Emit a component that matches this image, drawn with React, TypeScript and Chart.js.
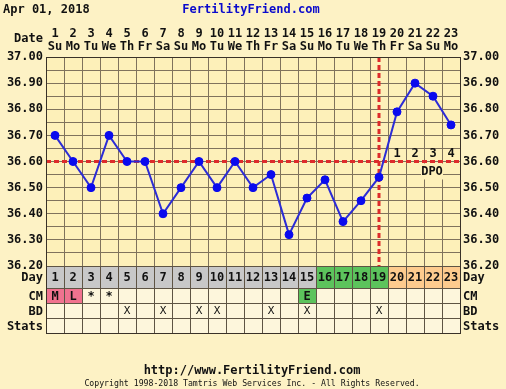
import React, { useEffect, useRef } from 'react';
import { Chart, registerables } from 'chart.js';

Chart.register(...registerables);

// ---------- data ----------
const chartDate = 'Apr 01, 2018';
const siteName = 'FertilityFriend.com';
const footerUrl = 'http://www.FertilityFriend.com';
const copyright = 'Copyright 1998-2018 Tamtris Web Services Inc. - All Rights Reserved.';

const days = ['1', '2', '3', '4', '5', '6', '7', '8', '9', '10', '11', '12', '13', '14', '15', '16', '17', '18', '19', '20', '21', '22', '23'];
const weekdays = ['Su', 'Mo', 'Tu', 'We', 'Th', 'Fr', 'Sa', 'Su', 'Mo', 'Tu', 'We', 'Th', 'Fr', 'Sa', 'Su', 'Mo', 'Tu', 'We', 'Th', 'Fr', 'Sa', 'Su', 'Mo'];
const temps = [36.70, 36.60, 36.50, 36.70, 36.60, 36.60, 36.40, 36.50, 36.60, 36.50, 36.60, 36.50, 36.55, 36.32, 36.46, 36.53, 36.37, 36.45, 36.54, 36.79, 36.90, 36.85, 36.74];
const coverline = 36.6;
const ovulationDay = '19';
const phases = ['pre', 'pre', 'pre', 'pre', 'pre', 'pre', 'pre', 'pre', 'pre', 'pre', 'pre', 'pre', 'pre', 'pre', 'pre', 'fertile', 'fertile', 'fertile', 'fertile', 'luteal', 'luteal', 'luteal', 'luteal'];
const cm = ['M', 'L', '*', '*', '', '', '', '', '', '', '', '', '', '', 'E', '', '', '', '', '', '', '', ''];
const bd = ['', '', '', '', 'X', '', 'X', '', 'X', 'X', '', '', 'X', '', 'X', '', '', '', 'X', '', '', '', ''];
const dpo = ['', '', '', '', '', '', '', '', '', '', '', '', '', '', '', '', '', '', '', '1', '2', '3', '4'];
const rowLabels = ['Day', 'CM', 'BD', 'Stats'];
const yMin = 36.2;
const yMax = 37.0;
const yTickValues = [36.20, 36.25, 36.30, 36.35, 36.40, 36.45, 36.50, 36.55, 36.60, 36.65, 36.70, 36.75, 36.80, 36.85, 36.90, 36.95, 37.00];

// ---------- styles ----------
const FONT = '"DejaVu Sans Mono", monospace';
const PAGE_BG = '#fdf2c5';
const PLOT_BG = '#fdf0b9';
const CELL_BG = '#fdf6dc';
const GRID = '#7f725c';
const LINE_DARK = '#5e5444';
const TEXT = '#111111';
const RED = '#dd2b2b';
const BLUE_LINE = '#2c2cd6';
const BLUE_PT = '#0a0aee';
const phaseColor: Record<string, string> = { pre: '#c8c8c8', fertile: '#5cc35c', luteal: '#fdcb8e' };
const cmColor: Record<string, string> = { M: '#f0728f', L: '#f0728f', E: '#5cc35c' };

const ROW_H = [22, 15, 15, 15];

const ffPlugin = {
  id: 'ffDecor',
  beforeDraw(chart: any) {
    const { ctx, chartArea: a, width, height } = chart;
    ctx.save();
    ctx.fillStyle = PAGE_BG;
    ctx.fillRect(0, 0, width, height);
    ctx.fillStyle = PLOT_BG;
    ctx.fillRect(a.left, a.top, a.right - a.left, a.bottom - a.top);
    ctx.restore();
  },
  beforeDatasetsDraw(chart: any) {
    const { ctx, chartArea: a } = chart;
    const xs = chart.scales.x;
    const ys = chart.scales.y;
    ctx.save();
    // DPO labels
    const yc = ys.getPixelForValue(coverline);
    const dpoIdx = dpo.map((d, i) => (d ? i : -1)).filter((i) => i >= 0);
    ctx.font = `bold 12px ${FONT}`;
    ctx.textAlign = 'center';
    ctx.textBaseline = 'middle';
    const dpoX = xs.getPixelForValue(dpoIdx[2]) - 1;
    ctx.fillStyle = PLOT_BG;
    ctx.fillRect(dpoX - 11, yc + 2, 22, 16);
    ctx.fillStyle = TEXT;
    ctx.fillText('DPO', dpoX, yc + 10);
    dpoIdx.forEach((i) => {
      ctx.fillText(dpo[i], xs.getPixelForValue(i), yc - 7.5);
    });
    // coverline
    ctx.strokeStyle = RED;
    ctx.lineWidth = 3;
    ctx.setLineDash([5, 3]);
    ctx.beginPath();
    ctx.moveTo(a.left, yc);
    ctx.lineTo(a.right, yc);
    ctx.stroke();
    // ovulation line
    const xo = Math.round(xs.getPixelForValue(days.indexOf(ovulationDay)));
    ctx.beginPath();
    ctx.moveTo(xo, a.top);
    ctx.lineTo(xo, a.bottom);
    ctx.stroke();
    ctx.restore();
  },
  afterDraw(chart: any) {
    const { ctx, chartArea: a, width } = chart;
    const xs = chart.scales.x;
    const colW = xs.getPixelForValue(1) - xs.getPixelForValue(0);
    ctx.save();
    // table
    let top = a.bottom;
    const rowTops: number[] = [];
    ROW_H.forEach((h, r) => {
      rowTops.push(top);
      days.forEach((d, i) => {
        const cx = xs.getPixelForValue(i);
        const x0 = cx - colW / 2;
        let bg = CELL_BG;
        let txt = '';
        let font = `bold 12px ${FONT}`;
        if (r === 0) {
          bg = phaseColor[phases[i]];
          txt = d;
        } else if (r === 1) {
          bg = cmColor[cm[i]] || CELL_BG;
          txt = cm[i];
        } else if (r === 2) {
          txt = bd[i];
          font = `11px ${FONT}`;
        }
        ctx.fillStyle = bg;
        ctx.fillRect(x0, top, colW, h);
        if (txt) {
          ctx.fillStyle = TEXT;
          ctx.font = font;
          ctx.textAlign = 'center';
          ctx.textBaseline = 'middle';
          ctx.fillText(txt, cx, top + h / 2 + 1);
        }
      });
      // row labels
      ctx.fillStyle = TEXT;
      ctx.font = `bold 12px ${FONT}`;
      ctx.textBaseline = 'middle';
      ctx.textAlign = 'right';
      ctx.fillText(rowLabels[r], a.left - 3, top + h / 2 + 1);
      ctx.textAlign = 'left';
      ctx.fillText(rowLabels[r], a.right + 3, top + h / 2 + 1);
      top += h;
    });
    const tableBottom = top;
    ctx.strokeStyle = LINE_DARK;
    ctx.lineWidth = 1;
    ctx.beginPath();
    for (let k = 0; k <= days.length; k++) {
      const xx = Math.round(xs.getPixelForValue(0) - colW / 2 + k * colW) + 0.5;
      ctx.moveTo(xx, a.bottom);
      ctx.lineTo(xx, tableBottom);
    }
    rowTops.concat([tableBottom]).forEach((yy) => {
      ctx.moveTo(a.left, Math.round(yy) + 0.5);
      ctx.lineTo(a.right, Math.round(yy) + 0.5);
    });
    ctx.stroke();
    // outer border of plot
    ctx.strokeStyle = '#3a3228';
    ctx.strokeRect(Math.round(a.left) + 0.5, Math.round(a.top) + 0.5, Math.round(a.right - a.left), Math.round(tableBottom - a.top));

    // header texts
    ctx.fillStyle = TEXT;
    ctx.font = `bold 12px ${FONT}`;
    ctx.textBaseline = 'middle';
    ctx.textAlign = 'left';
    ctx.fillText(chartDate, 3, 10);
    ctx.textAlign = 'right';
    ctx.fillText('Date', a.left - 3, 39);
    ctx.textAlign = 'center';
    ctx.fillStyle = '#0a0acc';
    ctx.fillText(siteName, width / 2 - 2, 10);
    // footer
    ctx.fillStyle = TEXT;
    ctx.fillText(footerUrl, width / 2 - 1, 371);
    ctx.font = `8.2px ${FONT}`;
    ctx.fillText(copyright, width / 2 - 1, 384);
    ctx.restore();
  },
};

const tickFont = { family: FONT, size: 12, weight: 'bold' as const };
const fmtY = (v: any) => {
  const c = Math.round(Number(v) * 100);
  return c % 10 === 0 ? (c / 100).toFixed(2) : '';
};

export default function App() {
  const ref = useRef<HTMLCanvasElement>(null);
  useEffect(() => {
    if (!ref.current) return;
    const chart = new Chart(ref.current, {
      type: 'line',
      data: {
        labels: days,
        datasets: [
          {
            data: temps,
            borderColor: BLUE_LINE,
            borderWidth: 2,
            backgroundColor: BLUE_PT,
            pointBackgroundColor: BLUE_PT,
            pointBorderColor: BLUE_PT,
            pointRadius: 4,
            pointBorderWidth: 1,
            tension: 0,
            fill: false,
          },
        ],
      },
      options: {
        animation: false,
        responsive: false,
        events: [],
        layout: { padding: { top: 0, bottom: 123, left: 0, right: 0 } },
        plugins: { legend: { display: false }, tooltip: { enabled: false }, title: { display: false } },
        scales: {
          x: {
            type: 'category',
            position: 'top',
            offset: true,
            grid: { offset: true, color: GRID, drawTicks: false, lineWidth: 1 },
            border: { display: true, color: '#3a3228' },
            ticks: {
              autoSkip: false,
              maxRotation: 0,
              minRotation: 0,
              padding: 4,
              color: TEXT,
              font: { ...tickFont, lineHeight: '13px' },
              callback: (_v: any, i: number) => [days[i], weekdays[i]],
            },
            afterFit: (s: any) => {
              s.height = 57;
            },
          },
          y: {
            type: 'linear',
            position: 'left',
            min: yMin,
            max: yMax,
            afterBuildTicks: (s: any) => {
              s.ticks = yTickValues.map((v) => ({ value: v }));
            },
            grid: { color: GRID, drawTicks: false, lineWidth: 1 },
            border: { display: true, color: '#3a3228' },
            ticks: { autoSkip: false, padding: 3, color: TEXT, font: tickFont, callback: fmtY },
            afterFit: (s: any) => {
              s.width = 46;
            },
          },
          y2: {
            type: 'linear',
            position: 'right',
            min: yMin,
            max: yMax,
            afterBuildTicks: (s: any) => {
              s.ticks = yTickValues.map((v) => ({ value: v }));
            },
            grid: { display: false, drawTicks: false },
            border: { display: true, color: '#3a3228' },
            ticks: { autoSkip: false, padding: 3, color: TEXT, font: tickFont, callback: fmtY },
            afterFit: (s: any) => {
              s.width = 46;
            },
          },
        },
      },
      plugins: [ffPlugin],
    } as any);
    return () => chart.destroy();
  }, []);
  return (
    <div style={{ position: 'absolute', left: 0, top: 0, width: 506, height: 389 }}>
      <canvas ref={ref} width={506} height={389} style={{ display: 'block', width: 506, height: 389 }} />
    </div>
  );
}
